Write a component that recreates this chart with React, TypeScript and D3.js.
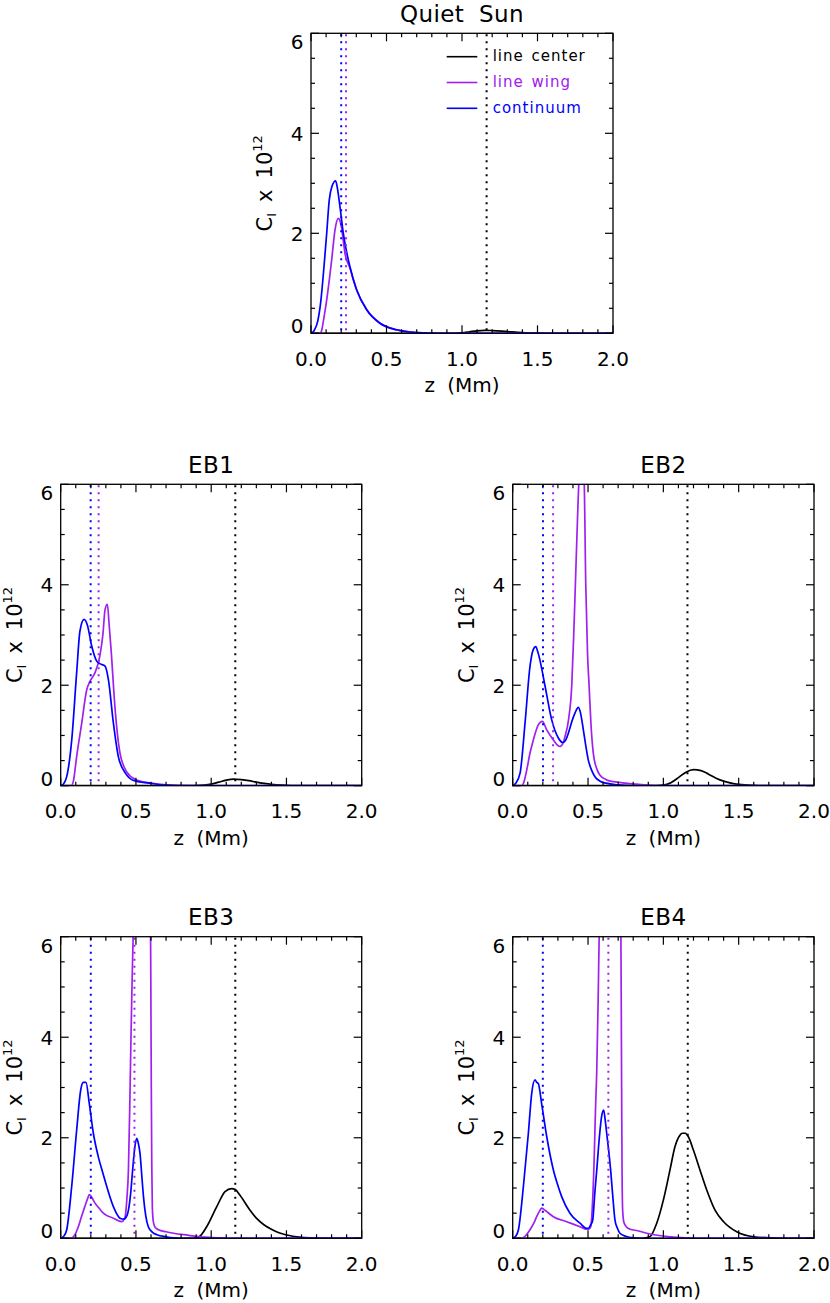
import React from "react";
import * as d3 from "d3";

type Pt = [number, number];

// ---------- axis / legend data ----------
const xMajorTicks = [0, 0.5, 1.0, 1.5, 2.0];
const xTickLabels = ["0.0", "0.5", "1.0", "1.5", "2.0"];
const yMajorTicks = [0, 2, 4, 6];
const yTickLabels = ["0", "2", "4", "6"];
const seriesNames = ["line center", "line wing", "continuum"];
const seriesColors = ["#000000", "#A020F0", "#0000FF"];
const panelTitles = ["Quiet Sun", "EB1", "EB2", "EB3", "EB4"];

// ---------- Quiet Sun ----------
const qsCenter: Pt[] = [[0,0],[0.95,0],[1.0,0.01],[1.05,0.03],[1.1,0.05],[1.15,0.06],[1.2,0.055],[1.3,0.035],[1.4,0.015],[1.5,0.005],[1.6,0],[2,0]];
const qsWing: Pt[] = [[0,0],[0.06,0],[0.07,0.05],[0.085,0.3],[0.104,0.67],[0.137,1.47],[0.159,2.07],[0.181,2.3],[0.192,2.25],[0.203,2.1],[0.214,1.85],[0.225,1.6],[0.258,1.3],[0.302,0.87],[0.369,0.47],[0.457,0.2],[0.567,0.07],[0.7,0.015],[0.85,0],[2,0]];
const qsCont: Pt[] = [[0,0],[0.02,0.05],[0.045,0.25],[0.066,0.67],[0.086,1.33],[0.104,2.0],[0.121,2.67],[0.14,2.95],[0.163,3.05],[0.175,2.9],[0.192,2.53],[0.214,2.0],[0.258,1.33],[0.302,0.87],[0.369,0.47],[0.457,0.2],[0.567,0.07],[0.7,0.015],[0.85,0],[2,0]];
const qsMarkers = [1.163, 0.232, 0.2];

// ---------- EB1 ----------
const eb1Center: Pt[] = [[0,0],[0.9,0],[0.95,0.01],[1.0,0.03],[1.05,0.07],[1.1,0.11],[1.15,0.13],[1.2,0.12],[1.25,0.1],[1.3,0.07],[1.35,0.045],[1.4,0.025],[1.5,0.008],[1.6,0],[2,0]];
const eb1Wing: Pt[] = [[0,0],[0.07,0],[0.085,0.1],[0.106,0.58],[0.14,1.25],[0.173,1.91],[0.195,2.08],[0.228,2.25],[0.26,2.58],[0.28,3.0],[0.295,3.51],[0.31,3.61],[0.322,3.2],[0.335,2.7],[0.36,1.58],[0.394,0.65],[0.44,0.27],[0.5,0.12],[0.6,0.05],[0.7,0.015],[0.85,0],[2,0]];
const eb1Cont: Pt[] = [[0,0],[0.02,0.04],[0.04,0.18],[0.073,0.9],[0.106,2.25],[0.128,3.08],[0.155,3.31],[0.177,3.2],[0.206,2.78],[0.239,2.48],[0.26,2.43],[0.295,2.38],[0.317,2.11],[0.35,1.25],[0.383,0.58],[0.43,0.25],[0.48,0.11],[0.59,0.05],[0.7,0.01],[0.85,0],[2,0]];
const eb1Markers = [1.16, 0.252, 0.199];

// ---------- EB2 ----------
const eb2Center: Pt[] = [[0,0],[0.95,0],[1.0,0.01],[1.05,0.06],[1.1,0.16],[1.15,0.27],[1.2,0.32],[1.25,0.3],[1.3,0.23],[1.35,0.15],[1.4,0.09],[1.45,0.05],[1.5,0.025],[1.6,0.005],[1.7,0],[2,0]];
const eb2Wing: Pt[] = [[0,0],[0.06,0],[0.075,0.08],[0.093,0.31],[0.115,0.65],[0.137,0.91],[0.17,1.21],[0.197,1.28],[0.226,1.11],[0.27,0.91],[0.3,0.8],[0.314,0.78],[0.335,0.85],[0.347,0.98],[0.37,1.3],[0.392,2.0],[0.405,3.0],[0.416,4.0],[0.43,5.3],[0.44,6.1],[0.457,6.6],[0.474,6.1],[0.485,4.0],[0.497,2.6],[0.507,2.0],[0.52,1.2],[0.535,0.65],[0.56,0.32],[0.58,0.21],[0.62,0.12],[0.67,0.08],[0.75,0.05],[0.82,0.03],[0.9,0.01],[1.0,0],[2,0]];
const eb2Cont: Pt[] = [[0,0],[0.02,0.05],[0.049,0.25],[0.082,1.25],[0.115,2.38],[0.135,2.7],[0.153,2.77],[0.165,2.68],[0.18,2.51],[0.215,1.98],[0.259,1.31],[0.303,0.95],[0.332,0.86],[0.35,0.9],[0.37,1.05],[0.395,1.3],[0.414,1.45],[0.436,1.56],[0.45,1.45],[0.469,1.11],[0.485,0.8],[0.502,0.51],[0.525,0.3],[0.546,0.18],[0.58,0.09],[0.62,0.05],[0.7,0.015],[0.8,0],[2,0]];
const eb2Markers = [1.16, 0.268, 0.201];

// ---------- EB3 ----------
const eb3Center: Pt[] = [[0,0],[0.88,0],[0.92,0.03],[0.97,0.23],[1.037,0.63],[1.092,0.93],[1.136,0.99],[1.16,0.97],[1.19,0.86],[1.258,0.56],[1.3,0.4],[1.35,0.27],[1.4,0.18],[1.45,0.11],[1.5,0.065],[1.6,0.02],[1.7,0.005],[1.8,0],[2,0]];
const eb3Wing: Pt[] = [[0,0],[0.07,0],[0.09,0.05],[0.117,0.23],[0.14,0.45],[0.16,0.63],[0.18,0.8],[0.19,0.87],[0.205,0.82],[0.228,0.7],[0.255,0.6],[0.283,0.5],[0.35,0.4],[0.405,0.33],[0.428,0.43],[0.44,0.8],[0.45,1.36],[0.46,2.8],[0.467,4.0],[0.475,5.2],[0.483,6.2],[0.5,7.5],[0.54,8.5],[0.58,8.0],[0.595,7.0],[0.599,5.0],[0.602,3.0],[0.605,1.5],[0.609,0.6],[0.616,0.32],[0.627,0.22],[0.65,0.17],[0.7,0.13],[0.75,0.1],[0.85,0.06],[0.925,0.03],[1.0,0.015],[1.15,0],[2,0]];
const eb3Cont: Pt[] = [[0,0],[0.02,0.04],[0.04,0.17],[0.073,1.03],[0.106,2.15],[0.133,2.95],[0.15,3.1],[0.168,3.1],[0.19,2.68],[0.217,2.09],[0.25,1.62],[0.28,1.3],[0.306,1.03],[0.35,0.63],[0.394,0.4],[0.42,0.38],[0.44,0.45],[0.45,0.56],[0.465,0.9],[0.478,1.36],[0.492,1.8],[0.505,1.99],[0.515,1.9],[0.527,1.69],[0.54,1.2],[0.55,0.83],[0.565,0.45],[0.582,0.23],[0.61,0.12],[0.64,0.07],[0.7,0.03],[0.75,0.01],[0.85,0],[2,0]];
const eb3Markers = [1.16, 0.49, 0.2];

// ---------- EB4 ----------
const eb4Center: Pt[] = [[0,0],[0.86,0],[0.91,0.03],[0.956,0.3],[1.0,0.76],[1.044,1.36],[1.077,1.82],[1.11,2.05],[1.125,2.09],[1.145,2.09],[1.166,2.02],[1.2,1.75],[1.243,1.36],[1.288,0.96],[1.343,0.56],[1.4,0.33],[1.487,0.13],[1.6,0.03],[1.71,0.01],[1.8,0],[2,0]];
const eb4Wing: Pt[] = [[0,0],[0.06,0],[0.085,0.05],[0.115,0.17],[0.14,0.3],[0.159,0.43],[0.18,0.55],[0.192,0.6],[0.205,0.58],[0.226,0.53],[0.27,0.43],[0.358,0.33],[0.447,0.23],[0.49,0.18],[0.505,0.18],[0.518,0.23],[0.528,0.6],[0.54,1.5],[0.55,2.6],[0.558,3.34],[0.567,4.7],[0.575,6.2],[0.6,8],[0.65,9],[0.7,8.5],[0.716,7.0],[0.72,5.0],[0.723,3.0],[0.726,1.3],[0.73,0.55],[0.738,0.32],[0.757,0.22],[0.78,0.18],[0.83,0.15],[0.89,0.1],[0.96,0.06],[1.044,0.03],[1.15,0.01],[1.27,0],[2,0]];
const eb4Cont: Pt[] = [[0,0],[0.02,0.04],[0.038,0.17],[0.071,1.03],[0.104,2.09],[0.126,2.88],[0.148,3.15],[0.16,3.1],[0.17,3.08],[0.192,2.68],[0.226,2.02],[0.27,1.36],[0.3,1.05],[0.325,0.83],[0.38,0.5],[0.447,0.3],[0.49,0.2],[0.502,0.2],[0.518,0.27],[0.531,0.36],[0.545,0.9],[0.558,1.36],[0.575,2.0],[0.59,2.42],[0.604,2.55],[0.614,2.35],[0.624,2.09],[0.65,1.36],[0.664,0.85],[0.679,0.36],[0.695,0.2],[0.712,0.1],[0.75,0.04],[0.8,0.01],[0.9,0],[2,0]];
const eb4Markers = [1.162, 0.635, 0.2];

const panelSeries: Pt[][][] = [
  [qsCenter, qsWing, qsCont],
  [eb1Center, eb1Wing, eb1Cont],
  [eb2Center, eb2Wing, eb2Cont],
  [eb3Center, eb3Wing, eb3Cont],
  [eb4Center, eb4Wing, eb4Cont],
];
const panelMarkers = [qsMarkers, eb1Markers, eb2Markers, eb3Markers, eb4Markers];

// ---------- layout (pixels) ----------
const layout = [
  { x: 311, y: 33.3, w: 302, h: 300 },
  { x: 60.7, y: 484.3, w: 301, h: 301.4 },
  { x: 512.7, y: 484.3, w: 301.3, h: 301.4 },
  { x: 60.7, y: 936.7, w: 301, h: 301.6 },
  { x: 512.7, y: 936.7, w: 301.3, h: 301.6 },
];

const FONT = "'DejaVu Sans', sans-serif";

function Panel({ idx }: { idx: number }) {
  const L = layout[idx];
  const xs = d3.scaleLinear().domain([0, 2]).range([L.x, L.x + L.w]);
  const ys = d3.scaleLinear().domain([0, 6]).range([L.y + L.h, L.y]);
  const line = d3
    .line<Pt>()
    .x((d) => xs(d[0]))
    .y((d) => ys(d[1]))
    .curve(d3.curveMonotoneX);
  const clipId = `clip${idx}`;
  const xMinor = d3.range(0, 2.0001, 0.1).filter((v) => Math.abs((v * 2) - Math.round(v * 2)) > 1e-6);
  const yMinor = d3.range(0, 6.0001, 0.5).filter((v) => Math.abs(v / 2 - Math.round(v / 2)) > 1e-6);
  const top = L.y;
  const bot = L.y + L.h;
  const left = L.x;
  const right = L.x + L.w;
  const MAJ = 8;
  const MIN = 4;
  const tk = { stroke: "#000", strokeWidth: 1.2 };
  const series = panelSeries[idx];
  const markers = panelMarkers[idx];

  return (
    <g>
      <defs>
        <clipPath id={clipId}>
          <rect x={left} y={top} width={L.w} height={L.h} />
        </clipPath>
      </defs>
      <text x={(left + right) / 2} y={top - 11.5} textAnchor="middle" fontSize={23} fontFamily={FONT} style={{ wordSpacing: "7px", letterSpacing: "0.4px" }}>
        {panelTitles[idx]}
      </text>
      {/* curves */}
      <g clipPath={`url(#${clipId})`}>
        {series.map((s, i) => (
          <path key={i} d={line(s) || ""} fill="none" stroke={seriesColors[i]} strokeWidth={1.7} strokeLinejoin="round" />
        ))}
        {markers.map((m, i) => (
          <line key={"m" + i} x1={xs(m)} x2={xs(m)} y1={top + 1} y2={bot} stroke={seriesColors[i]} strokeWidth={2} strokeDasharray="2 5" />
        ))}
      </g>
      {/* box */}
      <rect x={left} y={top} width={L.w} height={L.h} fill="none" stroke="#000" strokeWidth={1.3} />
      {/* x ticks */}
      {xMajorTicks.map((v) => (
        <g key={"xM" + v}>
          <line x1={xs(v)} x2={xs(v)} y1={bot} y2={bot - MAJ} {...tk} />
          <line x1={xs(v)} x2={xs(v)} y1={top} y2={top + MAJ} {...tk} />
        </g>
      ))}
      {xMinor.map((v) => (
        <g key={"xm" + v}>
          <line x1={xs(v)} x2={xs(v)} y1={bot} y2={bot - MIN} {...tk} />
          <line x1={xs(v)} x2={xs(v)} y1={top} y2={top + MIN} {...tk} />
        </g>
      ))}
      {/* y ticks */}
      {yMajorTicks.map((v) => (
        <g key={"yM" + v}>
          <line x1={left} x2={left + MAJ} y1={ys(v)} y2={ys(v)} {...tk} />
          <line x1={right} x2={right - MAJ} y1={ys(v)} y2={ys(v)} {...tk} />
        </g>
      ))}
      {yMinor.map((v) => (
        <g key={"ym" + v}>
          <line x1={left} x2={left + MIN} y1={ys(v)} y2={ys(v)} {...tk} />
          <line x1={right} x2={right - MIN} y1={ys(v)} y2={ys(v)} {...tk} />
        </g>
      ))}
      {/* x tick labels */}
      {xMajorTicks.map((v, i) => (
        <text key={"xl" + v} x={xs(v)} y={bot + 32.5} textAnchor="middle" fontSize={20} fontFamily={FONT}>
          {xTickLabels[i]}
        </text>
      ))}
      {/* y tick labels */}
      {yMajorTicks.map((v, i) => (
        <text key={"yl" + v} x={left - 7.5} y={Math.min(Math.max(ys(v) + 7.5, top + 16), bot)} textAnchor="end" fontSize={20} fontFamily={FONT}>
          {yTickLabels[i]}
        </text>
      ))}
      {/* x title */}
      <text x={(left + right) / 2} y={bot + 59} textAnchor="middle" fontSize={20} fontFamily={FONT} style={{ wordSpacing: "6px" }}>
        z (Mm)
      </text>
      {/* y title */}
      <text transform={`translate(${left - 39},${(top + bot) / 2}) rotate(-90)`} textAnchor="middle" fontSize={21} fontFamily={FONT}>
        <tspan>C</tspan>
        <tspan fontSize={13} dy={4}>I</tspan>
        <tspan dy={-4} dx={11}>x</tspan>
        <tspan dx={11}>10</tspan>
        <tspan fontSize={13} dy={-10}>12</tspan>
      </text>
      {idx === 0 &&
        seriesNames.map((n, i) => {
          const ry = top + 23.4 + i * 25.8;
          return (
            <g key={"lg" + i}>
              <line x1={left + 135.7} x2={left + 166.3} y1={ry} y2={ry} stroke={seriesColors[i]} strokeWidth={1.6} />
              <text x={left + 181.7} y={ry + 4.5} fontSize={15} fontFamily={FONT} fill={seriesColors[i]} style={{ letterSpacing: "1px", wordSpacing: "2px" }}>
                {n}
              </text>
            </g>
          );
        })}
    </g>
  );
}

export default function App() {
  return (
    <div style={{ position: "absolute", left: 0, top: 0 }}>
      <svg width={830} height={1303} viewBox="0 0 830 1303" style={{ display: "block", background: "#fff" }}>
        <rect x={0} y={0} width={830} height={1303} fill="#fff" />
        {layout.map((_, i) => (
          <Panel key={i} idx={i} />
        ))}
      </svg>
    </div>
  );
}
